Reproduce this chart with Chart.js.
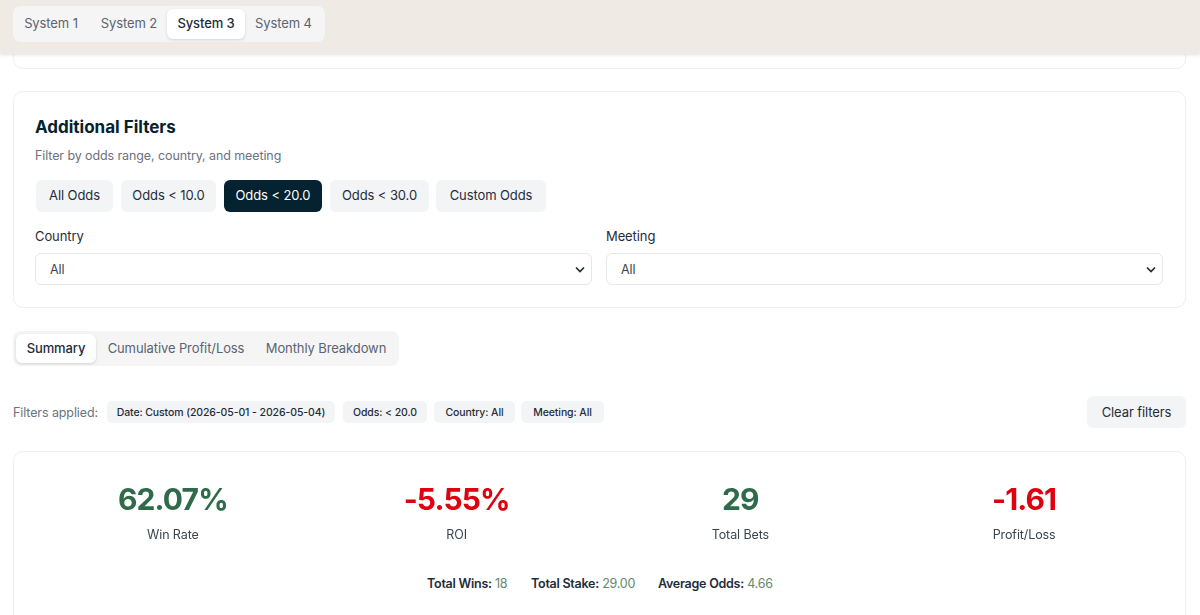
<!DOCTYPE html>
<html lang="en">
<head>
<meta charset="UTF-8">
<title>System 3 Summary</title>
<script src="https://cdn.jsdelivr.net/npm/chart.js"></script>
<style>
    html, body { margin: 0; padding: 0; background: #fff; overflow: hidden; }
    body { width: 1200px; height: 615px; position: relative; font-family: 'Inter', sans-serif; font-size: 13px; letter-spacing: -0.1px; color: #1f2d3a; }
    .abs { position: absolute; box-sizing: border-box; white-space: nowrap; }
    .center { display: flex; align-items: center; justify-content: center; }
    .up { padding-bottom: 2px; }
    .header { left: 0; top: 0; width: 1200px; height: 54px; background: #efeae4; box-shadow: 0 1px 3px rgba(0,0,0,.12); z-index: 3; }
    .tabs { background: #f5f5f5; border-radius: 8px; z-index: 4; }
    .tab { color: #5b6470; border-radius: 6px; z-index: 5; }
    .tab.active { background: #fff; color: #1f2d3a; font-weight: 500; box-shadow: 0 1px 3px rgba(0,0,0,.14); }
    .card { border: 1px solid #eceef0; border-radius: 10px; background: #fff; }
    .odds { background: #f3f4f6; border-radius: 6px; color: #1f2d3a; }
    .odds.active { background: #04222f; color: #fff; }
    .select { border: 1px solid #e5e7eb; border-radius: 6px; padding-left: 14px; line-height: 31px; font-size: 12.5px; color: #3a4450; }
    .select svg { position: absolute; right: 5px; top: 11px; }
    .chip { background: #f3f4f6; border-radius: 5px; font-size: 10.5px; font-weight: 500; letter-spacing: -0.1px; color: #1f2d3a; }
    #kpi { position: absolute; left: 0; top: 470px; }
    .stat { font-size: 12.5px; letter-spacing: -0.25px; }
    .stat b { font-weight: 600; color: #1f2d3a; }
    .stat span { color: #5f8a6f; }
</style>
</head>
<body>
<div class="abs header"></div>
<div class="abs card" style="left:13px;top:40px;width:1173px;height:29px"></div>
<div class="abs card" style="left:13px;top:91px;width:1173px;height:217px"></div>
<div class="abs card" style="left:13px;top:451px;width:1173px;height:200px"></div>

<div class="abs" style="left:35px;top:117px;font-size:17px;font-weight:700;letter-spacing:0;color:#04222f">Additional Filters</div>
<div class="abs" style="left:35px;top:148px;font-size:12.5px;letter-spacing:-0.1px;color:#6b7280">Filter by odds range, country, and meeting</div>
<div class="abs" style="left:35px;top:228px">Country</div>
<div class="abs" style="left:606px;top:228px">Meeting</div>
<div class="abs" style="left:13px;top:405px;font-size:12.5px;color:#6b7280">Filters applied:</div>
<div class="abs center odds" style="left:1087px;top:396px;width:99px;height:32px;border-radius:6px">Clear filters</div>
<div class="abs stat" style="left:427px;top:576px"><b>Total Wins:</b> <span>18</span></div>
<div class="abs stat" style="left:531px;top:576px"><b>Total Stake:</b> <span>29.00</span></div>
<div class="abs stat" style="left:658px;top:576px"><b>Average Odds:</b> <span>4.66</span></div>

<canvas id="kpi" width="1200" height="73" style="width:1200px;height:73px"></canvas>

<script>
    const systemTabs = ["System 1", "System 2", "System 3", "System 4"];
    const oddsButtons = ["All Odds", "Odds < 10.0", "Odds < 20.0", "Odds < 30.0", "Custom Odds"];
    const viewTabs = ["Summary", "Cumulative Profit/Loss", "Monthly Breakdown"];
    const appliedFilters = ["Date: Custom (2026-05-01 - 2026-05-04)", "Odds: < 20.0", "Country: All", "Meeting: All"];
    const selectValues = ["All", "All"];

    const kpiLabels = ["Win Rate", "ROI", "Total Bets", "Profit/Loss"];
    const kpiValues = [62.07, -5.55, 29, -1.61];
    const kpiText = ["62.07%", "-5.55%", "29", "-1.61"];

    function addBox(cls, text, left, top, width, height) {
        let el = document.createElement("div");
        el.className = "abs center " + cls;
        el.style.cssText = `left:${left}px;top:${top}px;width:${width}px;height:${height}px`;
        el.textContent = text;
        document.body.appendChild(el);
        return el;
    }

    // top tabs
    addBox("tabs", "", 13, 6, 312, 36);
    [[16, 70], [91, 76], [167, 78], [245, 77]].forEach((p, i) => {
        addBox("up tab" + (i == 2 ? " active" : ""), systemTabs[i], p[0], 9, p[1], 30);
    });

    // odds buttons
    [[36, 77], [121, 95], [224, 98], [330, 99], [436, 110]].forEach((p, i) => {
        addBox("up odds" + (i == 2 ? " active" : ""), oddsButtons[i], p[0], 180, p[1], 32);
    });

    // selects
    const chevron = '<svg width="12" height="10" viewBox="0 0 12 10"><path d="M2 2.5 L6 6.5 L10 2.5" fill="none" stroke="#1f2d3a" stroke-width="1.7"/></svg>';
    [[35, 557], [606, 557]].forEach((p, i) => {
        let el = document.createElement("div");
        el.className = "abs select";
        el.style.cssText = `left:${p[0]}px;top:253px;width:${p[1]}px;height:32px`;
        el.innerHTML = selectValues[i] + chevron;
        document.body.appendChild(el);
    });

    // view tabs
    addBox("tabs", "", 13, 331, 386, 35);
    [[16, 80], [100, 152], [256, 140]].forEach((p, i) => {
        addBox("up tab" + (i == 0 ? " active" : ""), viewTabs[i], p[0], 334, p[1], 29);
    });

    // filter chips
    [[107, 228], [343, 84], [434, 81], [521, 83]].forEach((p, i) => {
        addBox("chip", appliedFilters[i], p[0], 401, p[1], 22);
    });

    // big numbers sit over the category positions
    const kpiNumbers = {
        id: "kpiNumbers",
        afterDatasetsDraw(chart) {
            let ctx = chart.ctx;
            let pts = chart.getDatasetMeta(0).data;
            ctx.save();
            ctx.font = "700 30px Inter, sans-serif";
            ctx.letterSpacing = "-0.9px";
            ctx.textAlign = "center";
            ctx.textBaseline = "middle";
            pts.forEach((pt, i) => {
                ctx.fillStyle = kpiValues[i] < 0 ? "#e0000f" : "#2f6b4a";
                ctx.fillText(kpiText[i], pt.x, 31);
            });
            ctx.restore();
        }
    };

    new Chart(document.getElementById("kpi"), {
        type: "line",
        data: {
            labels: kpiLabels,
            datasets: [{ data: kpiValues, showLine: false, pointRadius: 0 }]
        },
        options: {
            responsive: false,
            animation: false,
            layout: { padding: { left: 31, right: 34, top: 0, bottom: 0 } },
            plugins: { legend: { display: false }, tooltip: { enabled: false } },
            scales: {
                x: {
                    offset: true,
                    grid: { display: false },
                    border: { display: false },
                    ticks: { color: "#3a4450", font: { family: "Inter", size: 12.5 }, padding: 0, maxRotation: 0 }
                },
                y: { display: false }
            }
        },
        plugins: [kpiNumbers]
    });
</script>
</body>
</html>
